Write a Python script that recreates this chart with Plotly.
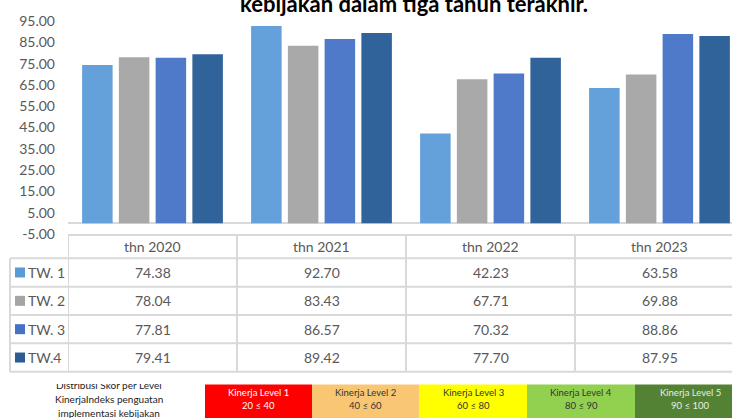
import plotly.graph_objects as go

# ---------------- data ----------------
years = ["thn 2020", "thn 2021", "thn 2022", "thn 2023"]
series_names = ["TW. 1", "TW. 2", "TW. 3", "TW.4"]
tw1 = [74.38, 92.70, 42.23, 63.58]
tw2 = [78.04, 83.43, 67.71, 69.88]
tw3 = [77.81, 86.57, 70.32, 88.86]
tw4 = [79.41, 89.42, 77.70, 87.95]
series_values = [tw1, tw2, tw3, tw4]
y_ticks = [-5, 5, 15, 25, 35, 45, 55, 65, 75, 85, 95]
title_text = "kebijakan dalam tiga tahun terakhir."
level_names = ["Kinerja Level 1", "Kinerja Level 2", "Kinerja Level 3", "Kinerja Level 4", "Kinerja Level 5"]
level_ranges = ["20 \u2264 40", "40 \u2264 60", "60 \u2264 80", "80 \u2264 90", "90 \u2264 100"]
side_caption = ["Distribusi Skor per Level", "KinerjaIndeks penguatan", "implementasi kebijakan"]

# ---------------- styling ----------------
W, H = 732, 418
bar_colors = ["#64a0da", "#a9a9a9", "#4f79c9", "#30639a"]
key_colors = ["#5b9bd5", "#a5a5a5", "#4472c4", "#2b5d93"]
level_fill = ["#fe0000", "#f9c774", "#ffff00", "#92d050", "#548235"]
level_font = ["#ffffff", "#333333", "#333333", "#333333", "#e8efe0"]
FONT = "Lato"
TXT = "#595959"
GRID = "#d9d9d9"


def px(x):
    return x / W


def py(y):
    return 1 - y / H


def note(x, y, text, size, color, xref="paper", xanchor="center", **kw):
    d = dict(x=x, xref=xref, y=y, yref="paper", text=text, showarrow=False,
             xanchor=xanchor, yanchor="middle", font=dict(family=FONT, size=size, color=color))
    d.update(kw)
    return d


plot_left, plot_right = 68, 732
cat_w = 169.0
x_end = -0.5 + (plot_right - plot_left) / cat_w
y_top_px, y_bot_px = 21, 234  # pixel of 95 and -5

fig = go.Figure()
for name, vals, col in zip(series_names, series_values, bar_colors):
    fig.add_trace(go.Bar(x=years, y=vals, name=name, marker=dict(color=col, line=dict(width=0)),
                         showlegend=False))

shapes = []
annotations = []

# table geometry
head_top, head_bot = 235, 258.3
row_h = 28.35
table_bot = head_bot + row_h * len(series_names)
line = dict(color=GRID, width=2)

shapes.append(dict(type="line", xref="paper", yref="paper", x0=px(plot_left), x1=1,
                   y0=py(head_top), y1=py(head_top), line=line))
for r in range(len(series_names) + 1):
    yy = head_bot + r * row_h
    shapes.append(dict(type="line", xref="paper", yref="paper", x0=px(10), x1=1,
                       y0=py(yy), y1=py(yy), line=line))
shapes.append(dict(type="line", xref="paper", yref="paper", x0=px(10), x1=px(10),
                   y0=py(head_bot), y1=py(table_bot), line=line))
for i in range(len(years)):
    shapes.append(dict(type="line", xref="x", yref="paper", x0=i - 0.5, x1=i - 0.5,
                       y0=py(head_top), y1=py(table_bot), line=line))

for i, yr in enumerate(years):
    annotations.append(note(i, py((head_top + head_bot) / 2), yr, 14, TXT, xref="x"))
for r, (name, vals) in enumerate(zip(series_names, series_values)):
    yc = head_bot + row_h * (r + 0.5)
    shapes.append(dict(type="rect", xref="paper", yref="paper", x0=px(15), x1=px(25),
                       y0=py(yc + 5), y1=py(yc - 5), fillcolor=key_colors[r], line=dict(width=0)))
    annotations.append(note(px(26), py(yc), name, 14, TXT, xanchor="left"))
    for i, v in enumerate(vals):
        annotations.append(note(i, py(yc), f"{v:.2f}", 14, TXT, xref="x"))

# title (cut at top, as in the source image)
annotations.append(note(px(414), py(3.5), f"<b>{title_text}</b>", 22, "#000000"))

# kinerja level boxes
edges = [205, 312, 419, 527, 635, 745]
box_top = 384.5
for k in range(len(level_names)):
    shapes.append(dict(type="rect", xref="paper", yref="paper", x0=px(edges[k]), x1=px(edges[k + 1]),
                       y0=py(H + 2), y1=py(box_top), fillcolor=level_fill[k], line=dict(width=0)))
    cx = (edges[k] + edges[k + 1]) / 2
    annotations.append(note(px(cx), py(392), level_names[k], 9.5, level_font[k]))
    annotations.append(note(px(cx), py(405.5), level_ranges[k], 9.5, level_font[k]))

for t, yc in zip(side_caption, [385, 399, 413]):
    annotations.append(note(px(109), py(yc), t, 10, "#222222"))
annotations.append(note(px(109), py(379), " ", 6, "#ffffff", bgcolor="#ffffff",
                        width=180, height=10, borderpad=0, borderwidth=0))

fig.update_layout(
    width=W, height=H,
    margin=dict(l=0, r=0, t=0, b=0, autoexpand=False),
    paper_bgcolor="#ffffff", plot_bgcolor="#ffffff",
    barmode="group", bargap=0.13, bargroupgap=0.17,
    shapes=shapes, annotations=annotations,
    xaxis=dict(domain=[px(plot_left), 1], type="category", categoryarray=years,
               range=[-0.5, x_end], showticklabels=False, showgrid=False, automargin=False,
               zeroline=False, showline=False, ticks=""),
    yaxis=dict(domain=[py(y_bot_px), py(y_top_px)], range=[-5.01, 95.01], automargin=False,
               tickvals=y_ticks, ticktext=[f"{v:.2f}" for v in y_ticks],
               showgrid=False, zeroline=True, zerolinecolor=GRID, zerolinewidth=2,
               showline=False, ticks="", ticklabelstandoff=12,
               tickfont=dict(family=FONT, size=14, color=TXT)),
    font=dict(family=FONT),
)

fig.write_html("out.html", config={"displayModeBar": False},
               post_script="document.body.style.margin='0';document.body.style.overflow='hidden';")
